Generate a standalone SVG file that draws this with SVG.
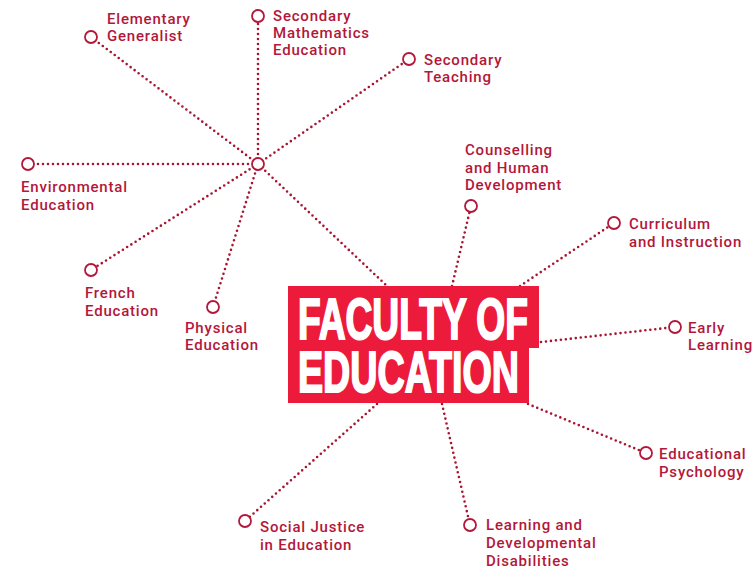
<svg xmlns="http://www.w3.org/2000/svg" width="755" height="572" viewBox="0 0 755 572">
<style>
.dot{fill:none;stroke:#a8142f;stroke-width:2.6;stroke-dasharray:0 5;stroke-linecap:round}
.node circle{fill:#fff;stroke:#b3173a;stroke-width:1.8}
.node text{font-family:Roboto,"Liberation Sans",sans-serif;font-size:15px;letter-spacing:0.8px;font-weight:500;fill:#b3173a}
.title{font-family:"Liberation Sans",Arial,sans-serif;font-weight:bold;font-size:58px;fill:#fff;stroke:#fff;stroke-width:2;stroke-linejoin:miter}
</style>
<rect width="755" height="572" fill="#fff"/>
<g id="connectors">
<line class="dot" x1="258" y1="164" x2="91" y2="37"/>
<line class="dot" x1="258" y1="164" x2="258" y2="16"/>
<line class="dot" x1="258" y1="164" x2="409" y2="59"/>
<line class="dot" x1="258" y1="164" x2="28" y2="164"/>
<line class="dot" x1="258" y1="164" x2="91" y2="270"/>
<line class="dot" x1="258" y1="164" x2="213" y2="307"/>
<line class="dot" x1="258" y1="164" x2="387" y2="286"/>
<line class="dot" x1="452" y1="286" x2="471" y2="206"/>
<line class="dot" x1="520" y1="286" x2="614" y2="223"/>
<line class="dot" x1="541" y1="342" x2="675" y2="327"/>
<line class="dot" x1="528" y1="404" x2="646" y2="453"/>
<line class="dot" x1="377" y1="404" x2="245" y2="521"/>
<line class="dot" x1="442" y1="404" x2="470" y2="525"/>
</g>
<g id="center">
<path d="M288 286H539V348H529V403H288Z" fill="#ed1b3b"/>
<text class="title" x="298" y="339" textLength="230" lengthAdjust="spacingAndGlyphs">FACULTY OF</text>
<text class="title" x="298" y="392" textLength="221" lengthAdjust="spacingAndGlyphs">EDUCATION</text>
</g>
<g id="hub" class="node"><circle cx="258" cy="164" r="6"/></g>
<g id="elementary" class="node"><circle cx="91" cy="37" r="6"/><text x="107" y="24">Elementary</text><text x="107" y="41">Generalist</text></g>
<g id="secmath" class="node"><circle cx="258" cy="16" r="6"/><text x="273" y="21">Secondary</text><text x="273" y="38">Mathematics</text><text x="273" y="55">Education</text></g>
<g id="secteach" class="node"><circle cx="409" cy="59" r="6"/><text x="424" y="65">Secondary</text><text x="424" y="82">Teaching</text></g>
<g id="environmental" class="node"><circle cx="28" cy="164" r="6"/><text x="21" y="192">Environmental</text><text x="21" y="210">Education</text></g>
<g id="french" class="node"><circle cx="91" cy="270" r="6"/><text x="85" y="298">French</text><text x="85" y="316">Education</text></g>
<g id="physical" class="node"><circle cx="213" cy="307" r="6"/><text x="185" y="333">Physical</text><text x="185" y="350">Education</text></g>
<g id="counselling" class="node"><circle cx="471" cy="206" r="6"/><text x="465" y="155">Counselling</text><text x="465" y="173">and Human</text><text x="465" y="190">Development</text></g>
<g id="curriculum" class="node"><circle cx="614" cy="223" r="6"/><text x="629" y="229">Curriculum</text><text x="629" y="247">and Instruction</text></g>
<g id="early" class="node"><circle cx="675" cy="327" r="6"/><text x="688" y="333">Early</text><text x="688" y="350">Learning</text></g>
<g id="edpsych" class="node"><circle cx="646" cy="453" r="6"/><text x="659" y="459">Educational</text><text x="659" y="477">Psychology</text></g>
<g id="social" class="node"><circle cx="245" cy="521" r="6"/><text x="260" y="532">Social Justice</text><text x="260" y="550">in Education</text></g>
<g id="learning" class="node"><circle cx="470" cy="525" r="6"/><text x="486" y="530">Learning and</text><text x="486" y="548">Developmental</text><text x="486" y="566">Disabilities</text></g>
</svg>
